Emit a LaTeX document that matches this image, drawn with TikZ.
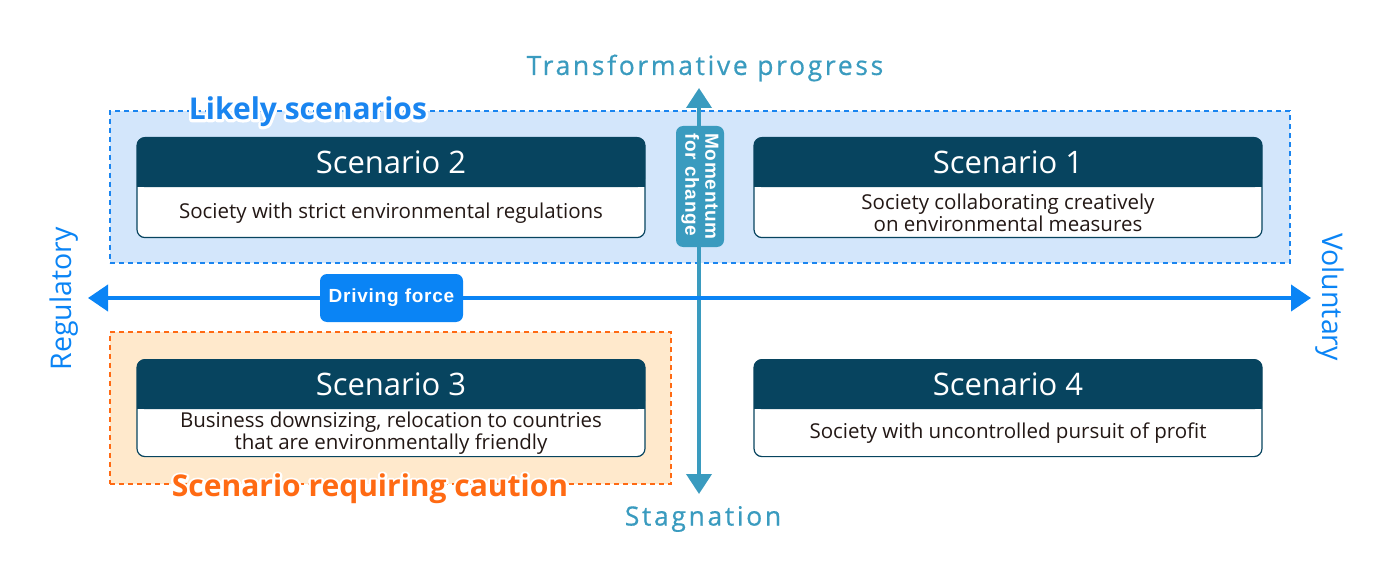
\documentclass[tikz,border=0pt]{standalone}
\usepackage{fontspec}
\setmainfont{Open Sans}
\newfontfamily\helv{Liberation Sans}
\usetikzlibrary{arrows.meta,calc}
\definecolor{hdr}{HTML}{07445F}
\definecolor{bodytxt}{HTML}{231815}
\definecolor{likelyfill}{HTML}{D3E6FB}
\definecolor{likelyline}{HTML}{1A85F0}
\definecolor{cautfill}{HTML}{FFE9CC}
\definecolor{cautline}{HTML}{FF6A13}
\definecolor{tealc}{HTML}{3A9BBF}
\definecolor{bluear}{HTML}{0A84F5}
\tikzset{
  region/.style={dashed, dash pattern=on 5pt off 4pt, line width=1.2pt, inner sep=0pt},
  cardbox/.style={fill=white, draw=hdr, line width=1.2pt, rounded corners=8pt, minimum width=508pt, inner sep=0pt},
  hdrbox/.style={fill=hdr, rounded corners=8pt, minimum width=508pt, minimum height=50pt, inner sep=0pt},
  titletxt/.style={text=white, font=\fontsize{31}{34}\selectfont},
  bodytext/.style={text=bodytxt, font=\fontsize{20.5}{22}\selectfont, align=center},
  axislbl/.style={font=\fontsize{26.5}{30}\selectfont\addfontfeature{LetterSpace=10,FakeBold=0.6}},
  sidelbl/.style={font=\fontsize{28.5}{30}\selectfont},
  tag/.style={rounded corners=7pt, text=white, inner sep=0pt, font=\helv\bfseries\fontsize{19}{20}\selectfont\addfontfeature{LetterSpace=4}},
  regionlbl/.style={font=\bfseries\fontsize{30}{32}\selectfont},
}
\newcommand\scard[6]{%
  \node[cardbox, minimum height=#4pt, anchor=north] (#1) at (#2,#3) {};
  \node[hdrbox, anchor=north] (#1h) at (#2,#3) {};
  \fill[hdr] ([yshift=12pt]#1h.south west) rectangle (#1h.south east);
  \node[titletxt] (#1t) at (#1h.center) {#5};
  \node[bodytext] (#1b) at ($(#1h.south)!0.5!(#1.south)$) {#6};
}
\newcommand\halotxt[2]{%
  {\color{white}\special{pdf:literal 1 Tr 5 w 1 j 1 1 1 RG}\rlap{#2}\special{pdf:literal 0 Tr}}{\color{#1}#2}}
\begin{document}
\begin{tikzpicture}[x=1pt, y=-1pt]
\useasboundingbox (0,0) rectangle (1400,580);
% regions
\node[region, draw=likelyline, fill=likelyfill, minimum width=1180pt, minimum height=152pt] (likely) at (700,187) {};
\node[region, draw=cautline, fill=cautfill, minimum width=561pt, minimum height=152pt] (caut) at (390.5,408) {};
% cards
\scard{s2}{391}{137}{100}{Scenario 2}{Society with strict environmental regulations}
\scard{s1}{1008}{137}{100}{Scenario 1}{Society collaborating creatively\\on environmental measures}
\scard{s3}{391}{359}{97}{Scenario 3}{Business downsizing, relocation to countries\\that are environmentally friendly}
\scard{s4}{1008}{359}{97}{Scenario 4}{Society with uncontrolled pursuit of profit}
% region labels
\node[regionlbl] (likelylbl) at (308,112) {\halotxt{likelyline}{Likely scenarios}};
\node[regionlbl] (cautlbl) at (370,489) {\halotxt{cautline}{Scenario requiring caution}};
% axes
\coordinate (vtop) at (699,88);
\coordinate (vbot) at (699,494);
\coordinate (hl) at (88,298);
\coordinate (hr) at (1311,298);
\draw[tealc, line width=4pt, {Triangle[length=20pt,width=25pt]}-{Triangle[length=20pt,width=25pt]}] (vbot) -- (vtop);
\draw[bluear, line width=4pt, {Triangle[length=20pt,width=26pt]}-{Triangle[length=20pt,width=26pt]}] (hl) -- (hr);
\node[tag, fill=tealc, rotate=-90, minimum width=121pt, minimum height=48pt, align=left] (mom) at (700,186.5) {Momentum\\for change};
\node[tag, fill=bluear, minimum width=143pt, minimum height=48pt] (drive) at (391.5,298) {Driving force};
% axis labels
\node[axislbl, text=tealc] (trans) at (705,68) {Transformative progress};
\node[axislbl, text=tealc] (stag) at (703,519) {Stagnation};
\node[sidelbl, text=bluear, rotate=90] (reg) at (64,299) {Regulatory};
\node[sidelbl, text=bluear, rotate=-90] (vol) at (1330,297) {Voluntary};
\end{tikzpicture}
\end{document}
